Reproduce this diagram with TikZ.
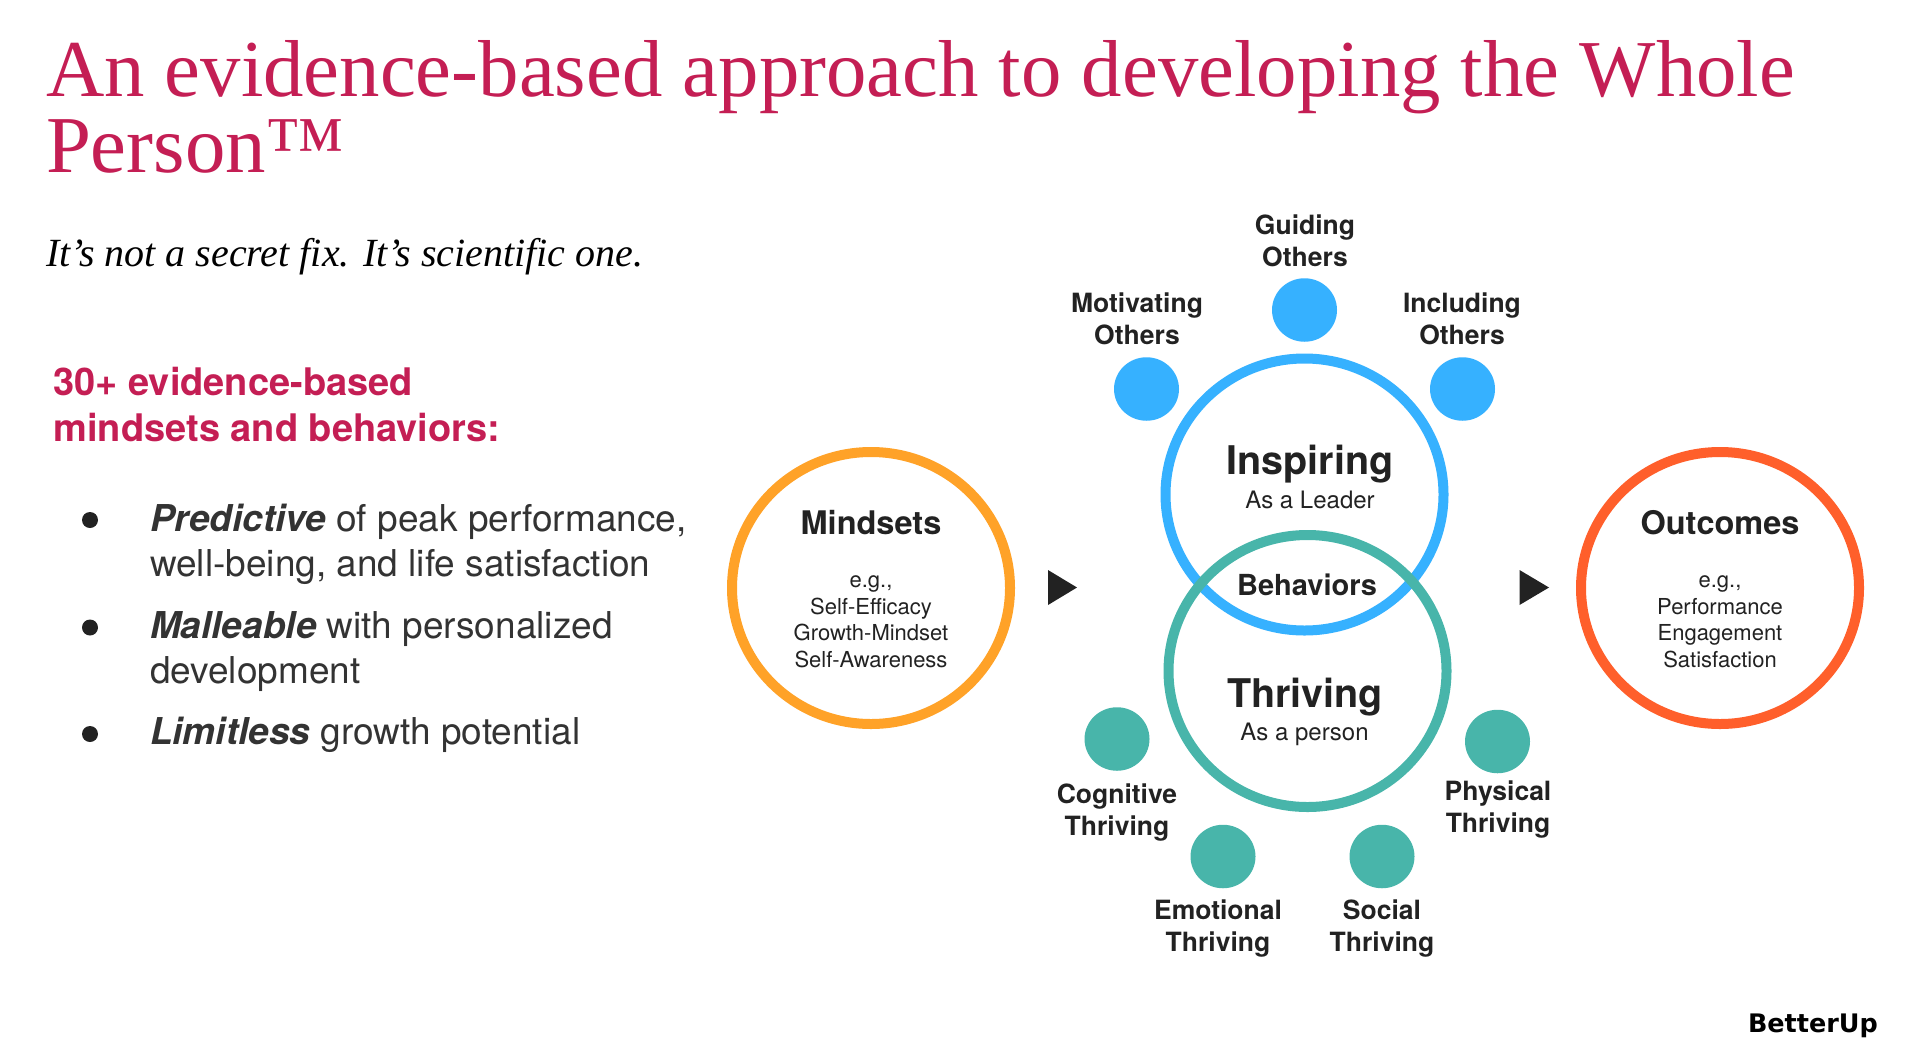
\documentclass[tikz,border=0pt]{standalone}
\usepackage{fontspec}
\usepackage{tikz}
\usetikzlibrary{shapes.geometric}
\setmainfont{TeX Gyre Heros}
\newfontfamily\titlefont{Liberation Serif}
\newfontfamily\logofont{DejaVu Sans}
\definecolor{crimson}{HTML}{C41E54}
\definecolor{inkgray}{HTML}{222222}
\definecolor{lightink}{HTML}{333333}
\definecolor{ringblue}{HTML}{36B1FF}
\definecolor{ringteal}{HTML}{48B5AA}
\definecolor{ringorange}{HTML}{FFA228}
\definecolor{ringred}{HTML}{FF5F2B}
\tikzset{
  txt/.style={inner sep=0pt,outer sep=0pt,anchor=base,text=inkgray,align=center},
  titleline/.style={txt,anchor=base west,align=left,text=crimson,font=\titlefont\fontsize{80.75}{76}\selectfont},
  headline/.style={txt,anchor=base west,align=left,text=crimson,font=\bfseries\fontsize{38}{46}\selectfont},
  bodyline/.style={txt,anchor=base west,align=left,text=lightink,font=\fontsize{37}{45}\selectfont},
  bullet/.style={circle,fill=inkgray,inner sep=0pt,minimum size=16pt},
  ring/.style={ellipse,draw,line width=10pt,minimum width=278pt,minimum height=272pt,inner sep=0pt},
  dot/.style={ellipse,inner sep=0pt,minimum width=65pt,minimum height=63.5pt},
  big/.style={txt,font=\bfseries\fontsize{39.5}{44}\selectfont},
  mid/.style={txt,font=\bfseries\fontsize{32.5}{38}\selectfont},
  sub/.style={txt,font=\fontsize{24}{28}\selectfont},
  small/.style={txt,font=\fontsize{22}{26.5}\selectfont},
  dotlabel/.style={txt,font=\bfseries\fontsize{26.5}{32}\selectfont}
}
\begin{document}
\begin{tikzpicture}[x=1pt,y=-1pt]
\useasboundingbox (0,0) rectangle (1910,1042);

\node[titleline] (title1) at (46,96) {An evidence-based approach to developing the Whole};
\node[titleline] (title2) at (46,172) {Person™};
\node[txt,anchor=base west,text=black,font=\titlefont\itshape\fontsize{40}{46}\selectfont] (tagline) at (46.5,266) {It’s not a secret fix. It’s scientific one.};

\node[headline] (head) at (53.5,441.5) {30+ evidence-based\\mindsets and behaviors:};

\node[bullet] (b1) at (90,520) {};
\node[bullet] (b2) at (90,627.5) {};
\node[bullet] (b3) at (90,734) {};
\node[bodyline] (predictive) at (150,576.5) {\textbf{\textit{Predictive}} of peak performance,\\well-being, and life satisfaction};
\node[bodyline] (malleable) at (150,683) {\textbf{\textit{Malleable}} with personalized\\development};
\node[bodyline] (limitless) at (150,744) {\textbf{\textit{Limitless}} growth potential};

\node[ring,draw=ringorange] (mindsets) at (871,588) {};
\node[ring,draw=ringred] (outcomes) at (1720,588) {};
\node[ring,draw=ringblue] (inspiring) at (1304.5,494.5) {};
\node[ring,draw=ringteal] (thriving) at (1307.5,671) {};

\node[dot,fill=ringblue] (guiding) at (1304.5,310) {};
\node[dot,fill=ringblue] (motivating) at (1146.5,389) {};
\node[dot,fill=ringblue] (including) at (1462.5,389) {};
\node[dot,fill=ringteal] (cognitive) at (1117,739) {};
\node[dot,fill=ringteal] (physical) at (1497.5,741.5) {};
\node[dot,fill=ringteal] (emotional) at (1223,856.5) {};
\node[dot,fill=ringteal] (social) at (1382,856.5) {};

\node[mid] (mindsetstxt) at (871,534) {Mindsets};
\node[small] (mindsetssub) at (871,667) {e.g.,\\Self-Efficacy\\Growth-Mindset\\Self-Awareness};
\node[mid] (outcomestxt) at (1720,534) {Outcomes};
\node[small] (outcomessub) at (1720,667) {e.g.,\\Performance\\Engagement\\Satisfaction};

\node[big] (inspiringtxt) at (1310,474.5) {Inspiring};
\node[sub] (inspiringsub) at (1310,508.5) {As a Leader};
\node[txt,font=\bfseries\fontsize{29}{34}\selectfont] (behaviors) at (1307,595.5) {Behaviors};
\node[big] (thrivingtxt) at (1305,707.5) {Thriving};
\node[sub] (thrivingsub) at (1304.5,740) {As a person};

\node[dotlabel] (guidingtxt) at (1305,266.5) {Guiding\\Others};
\node[dotlabel] (motivatingtxt) at (1137,344) {Motivating\\Others};
\node[dotlabel] (includingtxt) at (1462,344) {Including\\Others};
\node[dotlabel] (cognitivetxt) at (1117,835) {Cognitive\\Thriving};
\node[dotlabel] (physicaltxt) at (1498,832.5) {Physical\\Thriving};
\node[dotlabel] (emotionaltxt) at (1218,951) {Emotional\\Thriving};
\node[dotlabel] (socialtxt) at (1382,951) {Social\\Thriving};

\fill[inkgray] (1048,570) -- (1077,587.5) -- (1048,605) -- cycle;
\fill[inkgray] (1519.5,570) -- (1549,587.5) -- (1519.5,605) -- cycle;

\node[txt,anchor=base west,text=black,font=\logofont\bfseries\fontsize{25.5}{28}\selectfont] (logo) at (1748,1032) {BetterUp};

\end{tikzpicture}
\end{document}
